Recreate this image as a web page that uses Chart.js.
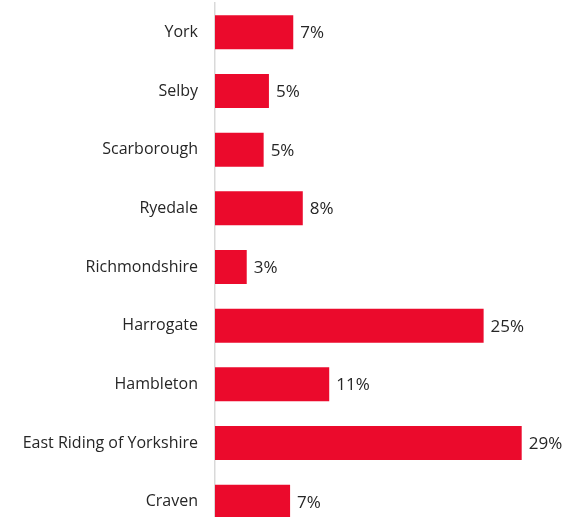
<!DOCTYPE html>
<html>
<head>
<meta charset="utf-8">
<script src="https://cdn.jsdelivr.net/npm/chart.js@4"></script>
<style>
  html, body { margin: 0; padding: 0; background: #fff; overflow: hidden; }
  canvas { display: block; }
</style>
</head>
<body>
<canvas id="myChart" width="578" height="531"></canvas>
<script>
// districts, top to bottom as in the picture
const districts = ['York', 'Selby', 'Scarborough', 'Ryedale', 'Richmondshire',
    'Harrogate', 'Hambleton', 'East Riding of Yorkshire', 'Craven'];
// share of respondents (%)
const shares = [7.4, 5.1, 4.6, 8.3, 3.0, 25.4, 10.8, 29.0, 7.1];

// draw the "7%" style labels just past each bar end
const valueLabels = {
    id: 'valueLabels',
    afterDatasetsDraw(chart) {
        const ctx = chart.ctx;
        const meta = chart.getDatasetMeta(0);
        ctx.save();
        ctx.font = '17px "Open Sans", sans-serif';
        ctx.fillStyle = '#262626';
        ctx.textAlign = 'left';
        ctx.textBaseline = 'middle';
        meta.data.forEach((bar, i) => {
            ctx.fillText(Math.round(shares[i]) + '%', bar.x + 7, bar.y + 1);
        });
        ctx.restore();
    }
};

const ctx = document.getElementById('myChart');
const myChart = new Chart(ctx, {
    type: 'bar',
    data: {
        labels: districts,
        datasets: [{
            data: shares,
            backgroundColor: '#EB0A2C',
            borderWidth: 0,
            barPercentage: 0.58,
            categoryPercentage: 1
        }]
    },
    options: {
        indexAxis: 'y',
        responsive: false,
        animation: false,
        layout: { padding: { top: 3, right: 14, bottom: 0, left: 0 } },
        plugins: {
            legend: { display: false },
            tooltip: { enabled: false }
        },
        scales: {
            x: {
                display: false,
                min: 0,
                max: 33
            },
            y: {
                afterFit(scale) {
                    scale.width = 215;
                    // bars run right up to the top and past the bottom edge
                    scale.paddingTop = 0;
                    scale.paddingBottom = 0;
                },
                grid: { display: false },
                border: { display: true, color: '#d9d9d9', width: 1.5 },
                ticks: {
                    padding: 9,
                    color: '#262626',
                    font: { family: '"Open Sans", sans-serif', size: 16 }
                }
            }
        }
    },
    plugins: [valueLabels]
});
</script>
</body>
</html>
